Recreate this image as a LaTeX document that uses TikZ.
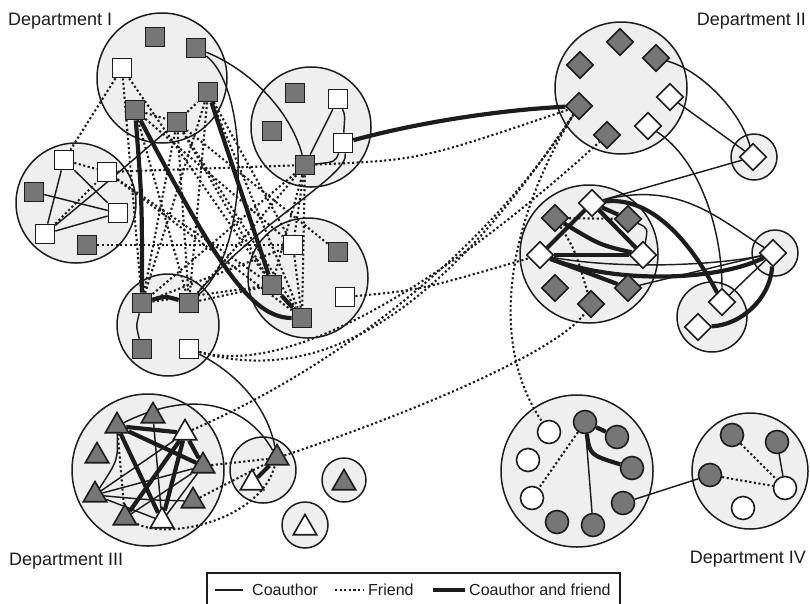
\documentclass[tikz,border=0pt]{standalone}
\usepackage{fontspec}
\setmainfont{Liberation Sans}
\usetikzlibrary{shapes.geometric}
\pgfdeclarelayer{bg}\pgfdeclarelayer{edges}
\pgfsetlayers{bg,edges,main}
\definecolor{grpfill}{RGB}{238,239,238}
\definecolor{ngray}{RGB}{118,118,118}
\definecolor{ink}{RGB}{30,27,28}
\begin{document}
\begin{tikzpicture}[x=1pt,y=-1pt,
  grp/.style={circle,draw=ink,fill=grpfill,line width=1.5pt,inner sep=0},
  sqg/.style={rectangle,draw=ink,fill=ngray,line width=1.7pt,minimum size=19pt,inner sep=0},
  sqw/.style={sqg,fill=white},
  dig/.style={diamond,draw=ink,fill=ngray,line width=1.6pt,minimum width=27pt,minimum height=27pt,inner sep=0},
  diw/.style={dig,fill=white},
  trg/.style={regular polygon,regular polygon sides=3,draw=ink,fill=ngray,line width=1.6pt,minimum size=27pt,inner sep=0},
  trw/.style={trg,fill=white},
  cig/.style={circle,draw=ink,fill=ngray,line width=1.6pt,minimum size=23pt,inner sep=0},
  ciw/.style={cig,fill=white},
  coauth/.style={draw=ink,line width=1.45pt},
  friend/.style={draw=ink,line width=2.1pt,dash pattern=on 2.1pt off 2.5pt},
  both/.style={draw=ink,line width=4.2pt},
  lbl/.style={font=\fontsize{18}{20}\selectfont,text=ink,inner sep=0},
  leg/.style={font=\fontsize{16}{18}\selectfont,text=ink,inner sep=0},
]
\useasboundingbox (0,0) rectangle (810,603);
% ---------- groups ----------
\begin{pgfonlayer}{bg}
\node[grp,minimum size=130pt] (C1) at (162,78) {};
\node[grp,minimum size=120pt] (C2) at (311,127) {};
\node[grp,minimum size=120pt] (C3) at (76,203) {};
\node[grp,minimum size=120pt] (C4) at (308,278) {};
\node[grp,minimum size=102pt] (C5) at (168,325) {};
\node[grp,minimum size=132pt] (D1) at (621,88) {};
\node[grp,minimum size=46pt] (D2) at (754,157) {};
\node[grp,minimum size=138pt] (D3) at (589,254) {};
\node[grp,minimum size=46pt] (D4) at (775,253) {};
\node[grp,minimum size=70pt] (D5) at (712,317) {};
\node[grp,minimum size=152pt] (T1) at (148,470) {};
\node[grp,minimum size=66pt] (T2) at (263,470) {};
\node[grp,minimum size=44pt] (T3) at (344,480) {};
\node[grp,minimum size=46pt] (T4) at (305,525) {};
\node[grp,minimum size=152pt] (O1) at (577,471) {};
\node[grp,minimum size=116pt] (O2) at (750,471) {};
\end{pgfonlayer}
% ---------- Department I ----------
\node[sqg] (a1) at (155,37) {};
\node[sqg] (a2) at (196,48) {};
\node[sqw] (a3) at (122,68) {};
\node[sqg] (a4) at (208,92) {};
\node[sqg] (a5) at (135,110) {};
\node[sqg] (a6) at (177,122) {};
\node[sqg] (b1) at (295,93) {};
\node[sqw] (b2) at (338,99) {};
\node[sqg] (b3) at (272,131) {};
\node[sqw] (b4) at (343,143) {};
\node[sqg] (b5) at (305,165) {};
\node[sqw] (c1) at (64,160) {};
\node[sqw] (c2) at (107,172) {};
\node[sqg] (c3) at (34,192) {};
\node[sqw] (c4) at (118,213) {};
\node[sqw] (c5) at (45,234) {};
\node[sqg] (c6) at (87,245) {};
\node[sqw] (d1) at (293,245) {};
\node[sqg] (d2) at (338,252) {};
\node[sqg] (d3) at (272,285) {};
\node[sqw] (d4) at (345,297) {};
\node[sqg] (d5) at (302,318) {};
\node[sqg] (e1) at (142,303) {};
\node[sqg] (e2) at (189,303) {};
\node[sqg] (e3) at (142,349) {};
\node[sqw] (e4) at (189,349) {};
% ---------- Department II ----------
\node[dig] (f1) at (620,42) {};
\node[dig] (f2) at (580,65) {};
\node[dig] (f3) at (656,58) {};
\node[diw] (f4) at (670,97) {};
\node[dig] (f5) at (579,106) {};
\node[dig] (f6) at (607,135) {};
\node[diw] (f7) at (648,126) {};
\node[diw] (g1) at (753,157) {};
\node[diw] (h1) at (592,203) {};
\node[dig] (h2) at (555,218) {};
\node[dig] (h3) at (628,219) {};
\node[diw] (h4) at (540,255) {};
\node[diw] (h5) at (643,255) {};
\node[dig] (h6) at (555,288) {};
\node[dig] (h7) at (591,304) {};
\node[dig] (h8) at (628,288) {};
\node[diw] (i1) at (773,253) {};
\node[diw] (j1) at (722,302) {};
\node[diw] (j2) at (698,327) {};
% ---------- Department III ----------
\node[trg] (k1) at (117,426) {};
\node[trg] (k2) at (153,416) {};
\node[trw] (k3) at (185,433) {};
\node[trg] (k4) at (97,456) {};
\node[trg] (k5) at (203,466) {};
\node[trg] (k6) at (95,495) {};
\node[trg] (k7) at (193,501) {};
\node[trg] (k8) at (125,518) {};
\node[trw] (k9) at (162,521) {};
\node[trg] (l1) at (277,458) {};
\node[trw] (l2) at (252,483) {};
\node[trg] (m1) at (344,483) {};
\node[trw] (n1) at (305,528) {};
% ---------- Department IV ----------
\node[ciw] (p1) at (549,432) {};
\node[cig] (p2) at (585,422) {};
\node[cig] (p3) at (617,437) {};
\node[ciw] (p4) at (528,460) {};
\node[cig] (p5) at (632,468) {};
\node[ciw] (p6) at (532,498) {};
\node[cig] (p7) at (623,503) {};
\node[cig] (p8) at (557,522) {};
\node[cig] (p9) at (593,525) {};
\node[cig] (q1) at (732,435) {};
\node[cig] (q2) at (777,442) {};
\node[cig] (q3) at (710,475) {};
\node[ciw] (q4) at (785,488) {};
\node[ciw] (q5) at (743,508) {};
% ---------- edges ----------
\begin{pgfonlayer}{edges}
% Dept I friends (dense mesh)
\draw[friend] (c1) -- (c2);
\draw[friend] (a3) -- (c1);
\draw[friend] (c5) -- (c2);
\draw[friend] (c2) -- (b5);
\draw[friend] (c6) -- (d1);
\draw[friend] (c2) -- (d3);
\draw[friend] (c2) -- (d5);
\draw[friend] (a5) -- (a6);
\draw[friend] (a6) -- (a4);
\draw[friend] (a3) -- (e1);
\draw[friend] (a3) -- (d3);
\draw[friend] (a5) -- (d1);
\draw[friend] (a5) -- (e2);
\draw[friend] (a6) -- (e1);
\draw[friend] (a6) -- (d3);
\draw[friend] (a6) -- (d5);
\draw[friend] (a6) -- (e2);
\draw[friend] (a4) -- (e1);
\draw[friend] (a4) -- (d1);
\draw[friend] (a4) -- (d5);
\draw[friend] (a4) -- (e2);
\draw[friend] (b5) -- (e1);
\draw[friend] (b5) -- (e2);
\draw[friend] (b5) -- (d3);
\draw[friend] (b5) -- (d1);
\draw[friend] (b5) -- (d5);
\draw[friend] (e1) -- (d1);
\draw[friend] (e1) -- (d3);
\draw[friend] (e2) -- (d3);
\draw[friend] (d1) -- (d5);
\draw[friend] (d2) -- (a6);
% Dept I coauthors
\draw[coauth] (c1) -- (c4);
\draw[coauth] (c1) -- (c5);
\draw[coauth] (c3) -- (c4);
\draw[coauth] (c5) -- (c4);
\draw[coauth] (c5) .. controls (110,180) .. (a6);
\draw[coauth] (a2) .. controls (250,70) and (290,110) .. (b5);
\draw[coauth] (a2) .. controls (250,90) and (250,250) .. (e2);
\draw[coauth] (b4) .. controls (350,175) and (260,220) .. (e2);
\draw[coauth] (b2) -- (b5);
\draw[coauth] (b2) .. controls (345,115) .. (b4);
\draw[coauth] (b4) .. controls (335,162) .. (b5);
\draw[coauth] (e1) .. controls (136,326) .. (e3);
\draw[coauth] (e4) .. controls (240,375) and (268,410) .. (l1);
% Dept I coauthor & friend
\draw[both] (a5) .. controls (142,200) .. (e1);
\draw[both] (a5) .. controls (215,260) and (250,318) .. (d5);
\draw[both] (a4) -- (d3);
\draw[both] (e1) .. controls (165,296) .. (e2);
\draw[both] (d3) -- (d5);
\draw[both] (b4) .. controls (420,122) and (500,110) .. (f5);
% long friendships
\draw[friend] (b5) .. controls (420,160) .. (f5);
\draw[friend] (e4) .. controls (330,390) and (450,300) .. (f5);
\draw[friend] (e4) .. controls (300,380) and (470,260) .. (f6);
\draw[friend] (k3) .. controls (330,370) and (480,260) .. (f5);
\draw[friend] (l1) .. controls (420,410) and (560,350) .. (h7);
\draw[friend] (f5) .. controls (520,200) and (480,330) .. (p1);
\draw[friend] (d4) .. controls (420,290) .. (h4);
% Dept II
\draw[coauth] (f3) .. controls (700,70) and (740,110) .. (g1);
\draw[coauth] (f4) -- (g1);
\draw[coauth] (f7) .. controls (700,160) and (722,230) .. (j1);
\draw[coauth] (g1) -- (h1);
\draw[coauth] (h1) .. controls (680,180) and (720,220) .. (i1);
\draw[coauth] (h3) .. controls (648,228) .. (h5);
\draw[coauth] (h8) -- (i1);
\draw[coauth] (i1) -- (j1);
\draw[coauth] (h4) .. controls (620,270) and (720,265) .. (i1);
\draw[friend] (h2) -- (h3);
\draw[friend] (h2) .. controls (575,250) .. (h7);
\draw[both] (h1) -- (h3);
\draw[both] (h1) -- (h5);
\draw[both] (h1) -- (h4);
\draw[both] (h2) .. controls (600,245) .. (h5);
\draw[both] (h4) -- (h5);
\draw[both] (h4) -- (h8);
\draw[both] (h4) .. controls (620,285) and (720,280) .. (i1);
\draw[both] (h1) .. controls (660,195) and (700,260) .. (j1);
\draw[both] (i1) .. controls (770,300) and (740,325) .. (j2);
% Dept III
\draw[coauth] (k1) .. controls (200,385) and (250,410) .. (l1);
\draw[coauth] (k2) -- (k9);
\draw[coauth] (k6) -- (k3);
\draw[coauth] (k6) -- (k5);
\draw[coauth] (k6) .. controls (150,500) .. (k7);
\draw[coauth] (k6) .. controls (118,460) .. (k1);
\draw[coauth] (k8) -- (k5);
\draw[coauth] (k9) -- (k5);
\draw[coauth] (k6) -- (k9);
\draw[friend] (k1) -- (k8);
\draw[friend] (k1) -- (k5);
\draw[friend] (k5) -- (l1);
\draw[friend] (k7) -- (l1);
\draw[friend] (k8) .. controls (170,540) and (260,520) .. (l1);
\draw[both] (k1) -- (k3);
\draw[both] (k1) -- (k5);
\draw[both] (k1) -- (k9);
\draw[both] (k3) -- (k8);
\draw[both] (k3) -- (k9);
\draw[both] (k3) -- (k5);
\draw[both] (l1) -- (l2);
% Dept IV
\draw[both] (p2) -- (p3);
\draw[both] (p2) .. controls (590,455) .. (p5);
\draw[coauth] (p2) -- (p9);
\draw[friend] (p2) -- (p6);
\draw[coauth] (p7) -- (q3);
\draw[friend] (q1) -- (q4);
\draw[friend] (q3) -- (q4);
\draw[coauth] (q2) -- (q4);
\end{pgfonlayer}
% ---------- labels ----------
\node[lbl,anchor=base west] (L1) at (8,25) {Department I};
\node[lbl,anchor=base east] (L2) at (806,25) {Department II};
\node[lbl,anchor=base west] (L3) at (9,565) {Department III};
\node[lbl,anchor=base east] (L4) at (806,563) {Department IV};
% ---------- legend ----------
\draw[ink,line width=1.4pt] (207,606) |- (620,573) -- (620,606);
\coordinate (la) at (215,590); \coordinate (lb) at (243,590);
\coordinate (lc) at (335,590); \coordinate (ld) at (364,590);
\coordinate (le) at (433,590); \coordinate (lf) at (465,590);
\draw[coauth] (la) -- (lb);
\draw[friend] (lc) -- (ld);
\draw[both] (le) -- (lf);
\node[leg,anchor=base west] (t1) at (252,595) {Coauthor};
\node[leg,anchor=base west] (t2) at (368,595) {Friend};
\node[leg,anchor=base west] (t3) at (469,595) {Coauthor and friend};
\end{tikzpicture}
\end{document}
